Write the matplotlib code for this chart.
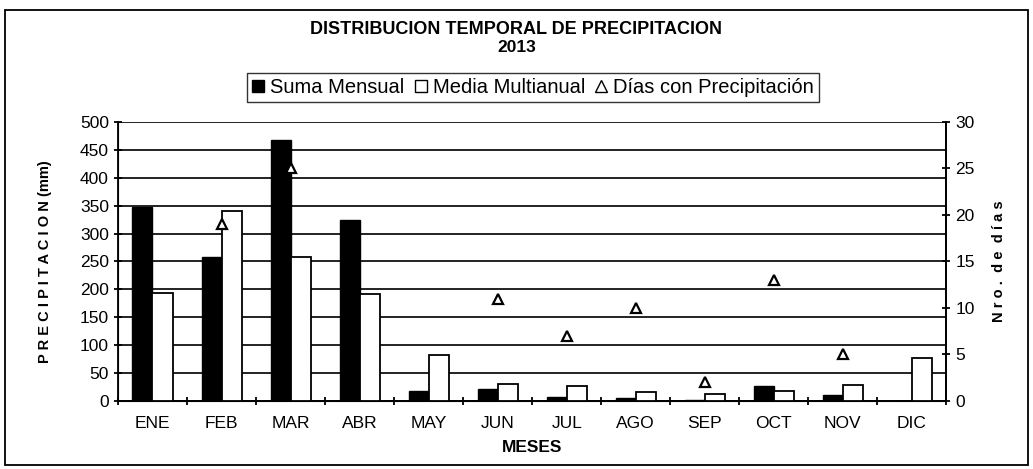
import numpy as np
import matplotlib.pyplot as plt
from matplotlib.lines import Line2D
from matplotlib.patches import Patch, Rectangle

plt.rcParams['font.family'] = ['Liberation Sans', 'DejaVu Sans']

meses = ['ENE', 'FEB', 'MAR', 'ABR', 'MAY', 'JUN', 'JUL', 'AGO', 'SEP', 'OCT', 'NOV', 'DIC']
suma_mensual = [348, 258, 468, 325, 18, 22, 8, 5, 2, 27, 10, 0]
media_multianual = [193, 340, 258, 192, 83, 30, 27, 17, 13, 18, 28, 77]
dias_precip = [np.nan, 19, 25, np.nan, np.nan, 11, 7, 10, 2, 13, 5, np.nan]

fig = plt.figure(figsize=(10.33, 4.69), dpi=100)
ax = fig.add_axes([0.1142, 0.145, 0.802, 0.595])
ax2 = ax.twinx()

x = np.arange(len(meses))
w = 0.29
ax.bar(x - w / 2, suma_mensual, w, color='black', edgecolor='black', linewidth=1, zorder=3)
ax.bar(x + w / 2, media_multianual, w, color='white', edgecolor='black', linewidth=1.3, zorder=3)

ax.set_ylim(0, 500)
ax.set_yticks(np.arange(0, 501, 50))
ax.set_xlim(-0.5, len(meses) - 0.5)
ax.set_xticks(x)
ax.set_xticklabels(meses, fontsize=12.5)
ax.set_xticks(np.arange(-0.5, len(meses), 1), minor=True)
ax.tick_params(axis='x', which='major', length=0, pad=11)
ax.tick_params(axis='x', which='minor', length=6, direction='inout', width=1.3)
ax.tick_params(axis='y', labelsize=12.5, direction='inout', length=6, width=1.3)
ax.yaxis.grid(True, color='#222222', linewidth=1.4, zorder=0)
ax.set_axisbelow(True)
ax.spines['top'].set_visible(False)
ax2.spines['top'].set_visible(False)
for s in ['left', 'bottom', 'right']:
    ax.spines[s].set_linewidth(1.3)
ax.set_xlabel('MESES', fontsize=12.5, fontweight='bold', labelpad=6)
ax.set_ylabel('P R E C I P I T A C I O N (mm)', fontsize=10.5, fontweight='bold', labelpad=20)

ax2.plot(x, dias_precip, linestyle='none', marker='^', markersize=7.5,
         markerfacecolor='white', markeredgecolor='black', markeredgewidth=1.6, zorder=4)
ax2.set_ylim(0, 30)
ax2.set_yticks(np.arange(0, 31, 5))
ax2.tick_params(axis='y', labelsize=12.5, direction='inout', length=6, width=1.3)
ax2.spines['right'].set_linewidth(1.3)
ax2.set_ylabel('N r o .  d e  d í a s', fontsize=10.5, fontweight='bold', labelpad=12)

fig.text(0.5, 0.937, 'DISTRIBUCION TEMPORAL DE PRECIPITACION', ha='center', va='center',
         fontsize=13, fontweight='bold')
fig.text(0.5, 0.898, '2013', ha='center', va='center', fontsize=12.5, fontweight='bold')

handles = [Patch(facecolor='black', edgecolor='black'),
           Patch(facecolor='white', edgecolor='black'),
           Line2D([], [], linestyle='none', marker='^', markerfacecolor='white',
                  markeredgecolor='black', markersize=8)]
labels = ['Suma Mensual', 'Media Multianual', 'Días con Precipitación']
fig.legend(handles, labels, loc='center', bbox_to_anchor=(0.516, 0.813), ncol=3,
           fontsize=14.5, frameon=True, fancybox=False, edgecolor='black',
           handlelength=0.6, handleheight=0.6, handletextpad=0.3, columnspacing=0.5,
           borderpad=0.25)

fig.patches.append(Rectangle((0.005, 0.008), 0.99, 0.97, transform=fig.transFigure,
                             fill=False, edgecolor='black', linewidth=1.3))

fig.savefig('out.png', dpi=100)
